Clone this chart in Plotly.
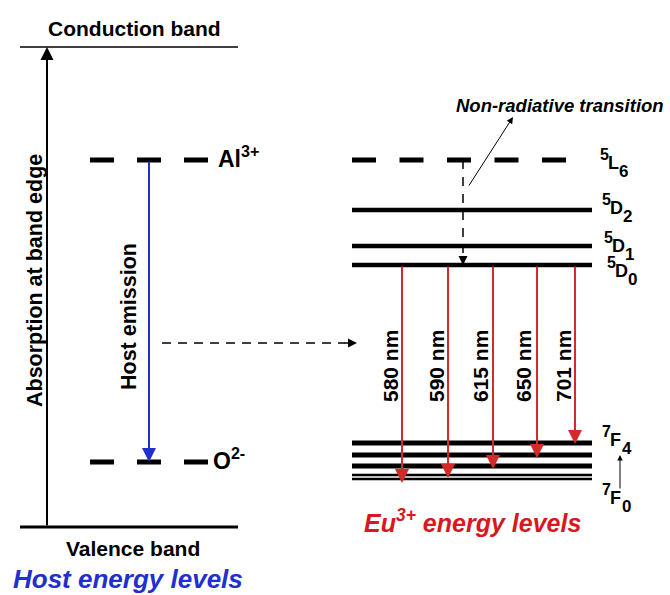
import plotly.graph_objects as go

# ---- data (schematic energy positions, diagram units) ----
band_names = ["Conduction band", "Valence band"]
band_y = [47, 527]
host_x = [20, 238]

defect_labels = ["Al<sup>3+</sup>", "O<sup>2-</sup>"]
defect_y = [160, 462]
defect_x = [90, 210]

eu_upper_terms = [("5", "L", "6"), ("5", "D", "2"), ("5", "D", "1"), ("5", "D", "0")]
eu_upper_y = [160, 210, 246, 265]
eu_x = [352, 592]

eu_lower_y = [443, 455, 466, 475, 479]
eu_lower_w = [5, 5, 5, 2.5, 2.5]
eu_lower_terms = [("7", "F", "4"), ("7", "F", "0")]

emission_labels = ["580 nm", "590 nm", "615 nm", "650 nm", "701 nm"]
emission_x = [402, 448, 493, 537, 575]
emission_end_y = [483, 478, 469, 458, 444]
emission_label_x = [390, 436, 480, 523, 563]

FONT = "Liberation Sans, Arial, sans-serif"
RED = "#d8181e"
BLUE = "#1f2fd0"
RED_LINE = "#d42a2a"

BASE_W = {"L": 11, "D": 12.5, "F": 11.5}

shapes = []
ann = []


def term_ann(sup, base, sub, x, yc):
    f = lambda s: dict(size=s, color="black", family=FONT)
    ann.append(dict(x=x, y=yc - 9, text="<b>%s</b>" % sup, showarrow=False,
                    xanchor="left", font=f(16)))
    ann.append(dict(x=x + 8, y=yc, text="<b>%s</b>" % base, showarrow=False,
                    xanchor="left", font=f(18)))
    ann.append(dict(x=x + 8 + BASE_W[base], y=yc + 8, text="<b>%s</b>" % sub,
                    showarrow=False, xanchor="left", font=f(17)))


# host bands
for name, y, w in zip(band_names, band_y, [1.5, 3]):
    shapes.append(dict(type="line", x0=host_x[0], x1=host_x[1], y0=y, y1=y,
                       line=dict(color="black", width=w)))
ann.append(dict(x=134, y=28, text="<b>" + band_names[0] + "</b>", showarrow=False,
                font=dict(size=21, color="black", family=FONT)))
ann.append(dict(x=133, y=548, text="<b>" + band_names[1] + "</b>", showarrow=False,
                font=dict(size=21, color="black", family=FONT)))
ann.append(dict(x=128, y=579, text="<b><i>Host energy levels</i></b>", showarrow=False,
                font=dict(size=26, color=BLUE, family=FONT)))

# absorption arrow
ann.append(dict(x=47, y=band_y[0], ax=47, ay=band_y[1], axref="x", ayref="y",
                text="", showarrow=True, arrowhead=2,
                arrowsize=1.3, arrowwidth=2, arrowcolor="black", standoff=0))
ann.append(dict(x=35, y=281, text="<b>Absorption at band edge</b>", textangle=-90,
                showarrow=False, font=dict(size=21.5, color="black", family=FONT)))

# defect levels
for lab, y in zip(defect_labels, defect_y):
    shapes.append(dict(type="line", x0=defect_x[0], x1=defect_x[1], y0=y, y1=y,
                       line=dict(color="black", width=5, dash="24px,23px")))
ann.append(dict(x=216, y=defect_y[0] - 3, text="<b>" + defect_labels[0] + "</b>",
                showarrow=False, xanchor="left",
                font=dict(size=23, color="black", family=FONT)))
ann.append(dict(x=211, y=defect_y[1] - 3, text="<b>" + defect_labels[1] + "</b>",
                showarrow=False, xanchor="left",
                font=dict(size=23, color="black", family=FONT)))

# host emission arrow (blue)
ann.append(dict(x=149, y=defect_y[1], ax=149, ay=defect_y[0], axref="x", ayref="y",
                text="", showarrow=True, arrowhead=2, arrowsize=1.4,
                arrowwidth=2, arrowcolor=BLUE, standoff=0))
ann.append(dict(x=129, y=317, text="<b>Host emission</b>", textangle=-90,
                showarrow=False, font=dict(size=21.5, color="black", family=FONT)))

# energy transfer dashed arrow
shapes.append(dict(type="line", x0=162, x1=345, y0=343, y1=343,
                   line=dict(color="black", width=1.5, dash="9px,7px")))
ann.append(dict(x=357, y=343, ax=343, ay=343, axref="x", ayref="y",
                text="", showarrow=True, arrowhead=2, arrowsize=1.2,
                arrowwidth=1.5, arrowcolor="black", standoff=0))

# Eu upper levels
for i, y in enumerate(eu_upper_y):
    if i == 0:
        shapes.append(dict(type="line", x0=eu_x[0], x1=567, y0=y, y1=y,
                           line=dict(color="black", width=5, dash="24px,23.5px")))
    else:
        shapes.append(dict(type="line", x0=eu_x[0], x1=eu_x[1], y0=y, y1=y,
                           line=dict(color="black", width=4.5)))
upper_lx = [598, 600, 602, 605]
upper_dy = [3, -2, 0, 6]
for t, y, lx, dy in zip(eu_upper_terms, eu_upper_y, upper_lx, upper_dy):
    term_ann(*t, lx, y + dy)

# non-radiative transition
shapes.append(dict(type="line", x0=463, x1=463, y0=eu_upper_y[0], y1=eu_upper_y[3] - 12,
                   line=dict(color="black", width=1.5, dash="9px,8px")))
ann.append(dict(x=463, y=eu_upper_y[3], ax=463, ay=eu_upper_y[3] - 10, axref="x", ayref="y",
                text="", showarrow=True, arrowhead=2, arrowsize=1.2,
                arrowwidth=1.5, arrowcolor="black", standoff=0))
ann.append(dict(x=513, y=117, ax=468, ay=187, axref="x", ayref="y",
                text="", showarrow=True, arrowhead=2, arrowsize=1.3,
                arrowwidth=1, arrowcolor="black", standoff=0))
ann.append(dict(x=560, y=105, text="<b><i>Non-radiative transition</i></b>", showarrow=False,
                font=dict(size=18.5, color="black", family=FONT)))

# Eu lower levels (7F_J)
for y, w in zip(eu_lower_y, eu_lower_w):
    shapes.append(dict(type="line", x0=eu_x[0], x1=eu_x[1], y0=y, y1=y,
                       line=dict(color="black", width=w)))
for t, yc in zip(eu_lower_terms, [440, 498]):
    term_ann(*t, 600, yc)
ann.append(dict(x=620, y=455, ax=620, ay=490, axref="x", ayref="y",
                text="", showarrow=True, arrowhead=2, arrowsize=1.1,
                arrowwidth=1, arrowcolor="black", standoff=0))

# emission arrows (red)
for lab, x, ye, lx in zip(emission_labels, emission_x, emission_end_y, emission_label_x):
    ann.append(dict(x=x, y=ye, ax=x, ay=eu_upper_y[3], axref="x", ayref="y",
                    text="", showarrow=True, arrowhead=2, arrowsize=1.4,
                    arrowwidth=2, arrowcolor=RED_LINE, standoff=0))
    ann.append(dict(x=lx, y=366, text="<b>" + lab + "</b>", textangle=-90,
                    showarrow=False, font=dict(size=21, color="black", family=FONT)))

ann.append(dict(x=472, y=521, text="<b><i>Eu<sup>3+</sup> energy levels</i></b>",
                showarrow=False, font=dict(size=25, color=RED, family=FONT)))

for a in ann:
    a.setdefault("xref", "x")
    a.setdefault("yref", "y")

fig = go.Figure()
fig.update_layout(
    width=670, height=595,
    margin=dict(l=0, r=0, t=0, b=0),
    paper_bgcolor="white", plot_bgcolor="white",
    xaxis=dict(range=[0, 670], visible=False, fixedrange=True),
    yaxis=dict(range=[595, 0], visible=False, fixedrange=True),
    shapes=shapes, annotations=ann, showlegend=False,
)
fig.write_html("out.html", config={"displayModeBar": False},
               post_script="document.body.style.margin='0';document.body.style.overflow='hidden';")
